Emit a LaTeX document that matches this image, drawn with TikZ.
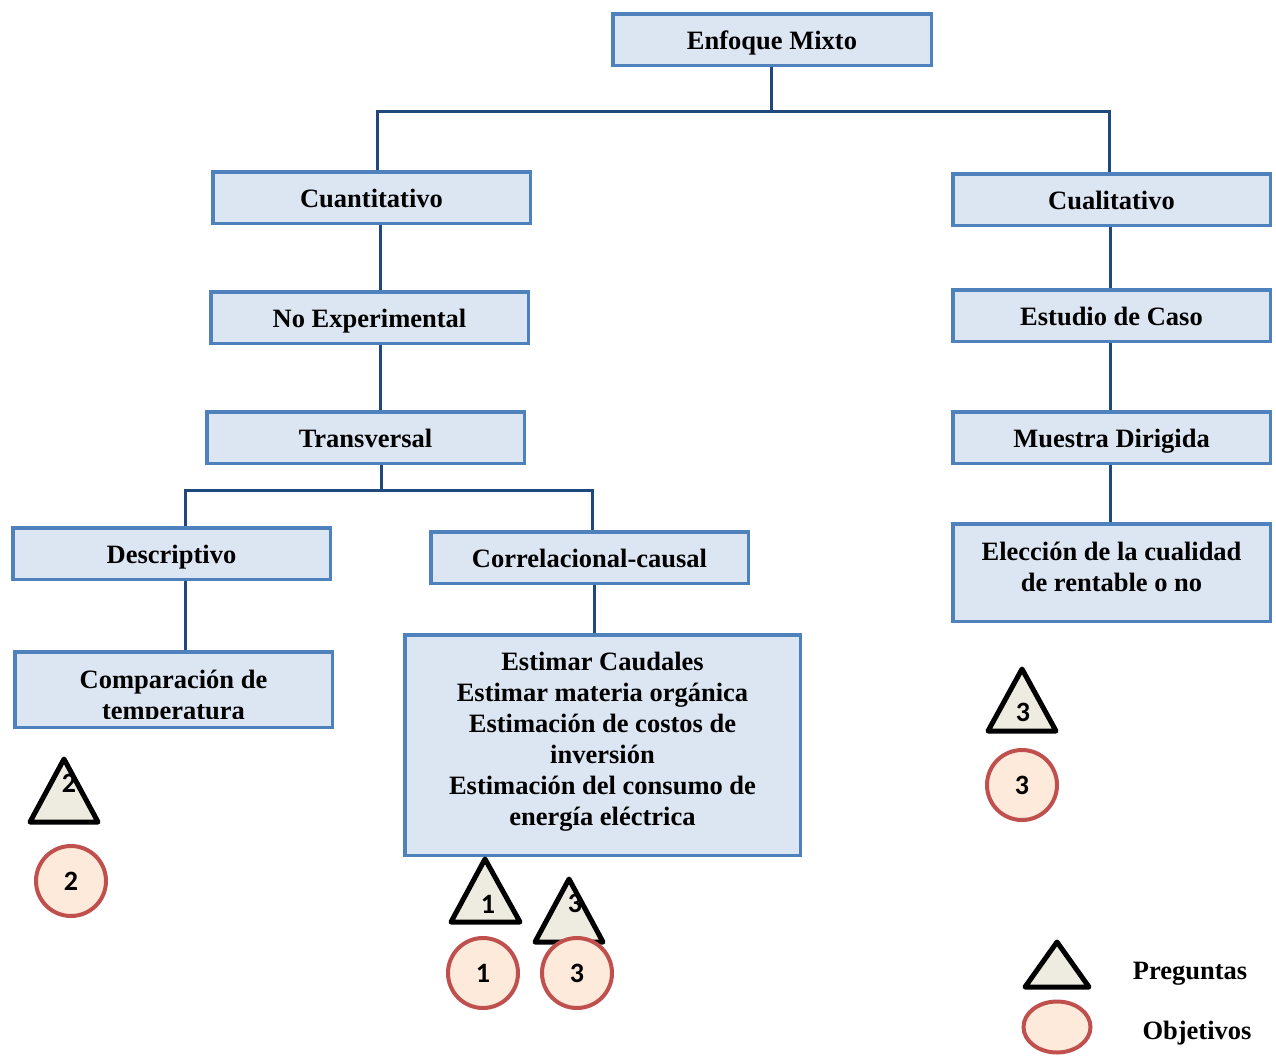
\documentclass[tikz,border=0pt]{standalone}
\usepackage{fontspec}
\usetikzlibrary{shapes.geometric}
\setmainfont{Liberation Serif}
\newfontfamily\numfont{Carlito}
\definecolor{boxblue}{HTML}{4F81BD}
\definecolor{boxfill}{HTML}{DCE6F2}
\definecolor{connblue}{HTML}{1F497D}
\definecolor{trifill}{HTML}{EEECE1}
\definecolor{circfill}{HTML}{FDEADA}
\definecolor{circred}{HTML}{C0504D}
\begin{document}
\begin{tikzpicture}[x=1pt,y=-1pt,
  box/.style={draw=boxblue,fill=boxfill,line width=3.5pt,minimum width=317.5pt,minimum height=51.5pt,inner sep=0pt,font=\bfseries\fontsize{26.5}{31}\selectfont,align=center,text height=20pt,text depth=0pt},
  lbl/.style={inner sep=0pt,font=\bfseries\fontsize{26.5}{31}\selectfont,align=center},
  conn/.style={draw=connblue,line width=3pt},
  tri/.style={draw=black,fill=trifill,line width=5pt,line join=round},
  circ/.style={circle,draw=circred,fill=circfill,line width=4pt,minimum size=70pt,inner sep=0pt},
  num/.style={inner sep=0pt,font=\numfont\bfseries\fontsize{28}{30}\selectfont}]
\useasboundingbox (0,0) rectangle (1276,1055);
% boxes
\node[box,minimum width=318.5pt] (enf) at (772,39.5) {Enfoque Mixto};
\node[box] (cuant) at (371.5,197.5) {Cuantitativo};
\node[box] (cual) at (1111.5,199.5) {Cualitativo};
\node[box] (noexp) at (369.5,317.5) {No Experimental};
\node[box] (estudio) at (1111.5,315.5) {Estudio de Caso};
\node[box] (trans) at (365.5,437.5) {Transversal};
\node[box] (muestra) at (1111.5,437.5) {Muestra Dirigida};
\node[box] (desc) at (171.5,553.5) {Descriptivo};
\node[box] (corr) at (589.5,557.5) {Correlacional-causal};
\node[box,minimum height=97.5pt] (elec) at (1111.5,572.5) {};
\node[lbl] (electxt) at ([yshift=5.5pt]elec.center) {Elección de la cualidad\\de rentable o no};
\node[box,minimum height=75.5pt] (comp) at (173.5,689.5) {};
\begin{scope}
  \clip (15,652) rectangle (332,718);
  \node[lbl] (comptxt) at ([yshift=-8pt]comp.center) {Comparación de\\temperatura};
\end{scope}
\node[box,minimum width=395.5pt,minimum height=220.5pt] (big) at (602.5,745) {};
\node[lbl] (bigtxt) at ([yshift=3.5pt]big.center) {Estimar Caudales\\Estimar materia orgánica\\Estimación de costos de\\inversión\\Estimación del consumo de\\energía eléctrica};
% connectors
\coordinate (j1) at (771,111);
\coordinate (j2) at (381,490);
\draw[conn] ([xshift=-1pt]enf.south) -- (j1);
\draw[conn] (j1) -| ([xshift=5.5pt]cuant.north);
\draw[conn] (j1) -| ([xshift=-2.5pt]cual.north);
\draw[conn] ([xshift=8.5pt]cuant.south) -- ([xshift=8.5pt]cuant.south |- noexp.north);
\draw[conn] ([xshift=10.5pt]noexp.south) -- ([xshift=10.5pt]noexp.south |- trans.north);
\draw[conn] ([xshift=15.5pt]trans.south) -- (j2);
\draw[conn] (j2) -| ([xshift=13.5pt]desc.north);
\draw[conn] (j2) -| ([xshift=2.5pt]corr.north);
\draw[conn] ([xshift=13.5pt]desc.south) -- ([xshift=13.5pt]desc.south |- comp.north);
\draw[conn] ([xshift=4.5pt]corr.south) -- ([xshift=4.5pt]corr.south |- big.north);
\draw[conn] ([xshift=-1.5pt]cual.south) -- ([xshift=-1.5pt]cual.south |- estudio.north);
\draw[conn] ([xshift=-1.5pt]estudio.south) -- ([xshift=-1.5pt]estudio.south |- muestra.north);
\draw[conn] ([xshift=-1.5pt]muestra.south) -- ([xshift=-1.5pt]muestra.south |- elec.north);
% triangles
\draw[tri] (64,759) -- (98,822) -- (30,822) -- cycle;
\node[num] (t2) at (69,783) {2};
\draw[tri] (485,859) -- (520,922) -- (451,922) -- cycle;
\node[num] (t1) at (488,904) {1};
\draw[tri] (569,879) -- (603,942) -- (535,942) -- cycle;
\node[num] (t3a) at (575,903) {3};
\draw[tri] (1022,669) -- (1056,731) -- (988,731) -- cycle;
\node[num] (t3b) at (1023,712) {3};
% circles
\node[circ] (c2) at (71,881) {};
\node[num] at (c2) {2};
\node[circ] (c1) at (483,973) {};
\node[num] at (c1) {1};
\node[circ] (c3a) at (577,973) {};
\node[num] at (c3a) {3};
\node[circ] (c3b) at (1022,785) {};
\node[num] at (c3b) {3};
% legend
\draw[tri] (1057,942) -- (1089,987) -- (1025,987) -- cycle;
\node[lbl] (preg) at (1190,974) {Preguntas};
\node[ellipse,draw=circred,fill=circfill,line width=4pt,minimum width=67pt,minimum height=51pt,inner sep=0pt] (ell) at (1057,1027) {};
\node[lbl] (obj) at (1197,1033) {Objetivos};
\end{tikzpicture}
\end{document}
